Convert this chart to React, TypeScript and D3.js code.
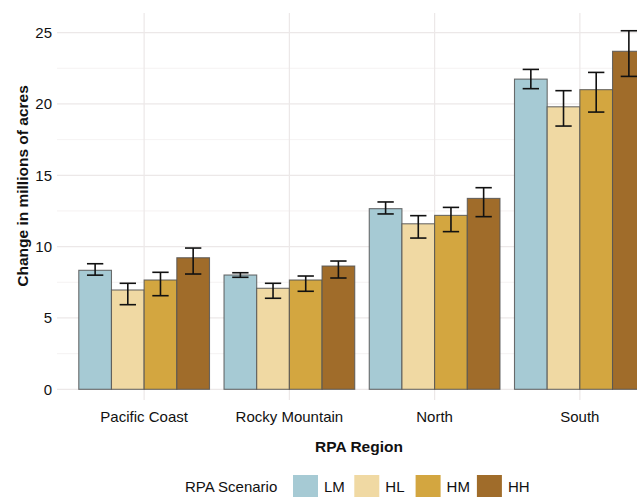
import React from "react";
import * as d3 from "d3";

const categories = ["Pacific Coast", "Rocky Mountain", "North", "South"];
const series = ["LM", "HL", "HM", "HH"];
const colors = ["#a6cad4", "#f0d9a3", "#d3a640", "#a06c2a"];
const values = [
  [8.34, 6.96, 7.66, 9.22],
  [8.01, 7.08, 7.66, 8.64],
  [12.66, 11.6, 12.19, 13.38],
  [21.74, 19.8, 21.0, 23.69],
];
const lows = [
  [8.0, 5.93, 6.56, 8.08],
  [7.85, 6.38, 6.87, 7.8],
  [12.29, 10.6, 11.05, 12.1],
  [21.07, 18.45, 19.43, 21.93],
];
const highs = [
  [8.8, 7.43, 8.2, 9.9],
  [8.17, 7.43, 7.94, 8.99],
  [13.13, 12.17, 12.75, 14.13],
  [22.42, 20.93, 22.21, 25.13],
];
const yTicks = [0, 5, 10, 15, 20, 25];
const yMinor = [2.5, 7.5, 12.5, 17.5, 22.5];

const W = 637;
const H = 497;
const panelLeft = 57;
const panelRight = 667;
const panelTop = 13;
const panelBottom = 400;
const font = "'Liberation Sans', Arial, Helvetica, sans-serif";

export default function App() {
  const x = d3.scalePoint<string>().domain(categories).range([panelLeft, panelRight]).padding(0.6);
  const step = x.step();
  const groupW = step * 0.9;
  const inner = d3.scaleBand<string>().domain(series).range([-groupW / 2, groupW / 2]);
  const bw = inner.bandwidth();
  const y = d3.scaleLinear().domain([0, 25]).range([389.3, 32.6]);

  return (
    <svg width={W} height={H} style={{ position: "absolute", left: 0, top: 0, background: "#fff" }} fontFamily={font}>
      {/* grid */}
      {yMinor.map((t) => (
        <line key={"mi" + t} x1={panelLeft} x2={W} y1={y(t)} y2={y(t)} stroke="#f3efef" strokeWidth={0.8} />
      ))}
      {yTicks.map((t) => (
        <line key={"ma" + t} x1={panelLeft} x2={W} y1={y(t)} y2={y(t)} stroke="#ece8e8" strokeWidth={1.2} />
      ))}
      {categories.map((c) => (
        <line key={"v" + c} x1={x(c)} x2={x(c)} y1={panelTop} y2={panelBottom} stroke="#ece8e8" strokeWidth={1.2} />
      ))}
      {/* bars */}
      {categories.map((c, ci) => (
        <g key={c}>
          {series.map((s, si) => {
            const bx = (x(c) as number) + (inner(s) as number);
            const top = y(values[ci][si]);
            return (
              <rect
                key={s}
                x={bx}
                y={top}
                width={bw}
                height={y(0) - top}
                fill={colors[si]}
                stroke="#555"
                strokeOpacity={0.85}
                strokeWidth={1.1}
              />
            );
          })}
          {series.map((s, si) => {
            const cx = (x(c) as number) + (inner(s) as number) + bw / 2;
            const hw = bw * 0.25;
            const yl = y(lows[ci][si]);
            const yh = y(highs[ci][si]);
            return (
              <g key={"e" + s} stroke="#111" strokeWidth={1.6}>
                <line x1={cx} x2={cx} y1={yh} y2={yl} />
                <line x1={cx - hw} x2={cx + hw} y1={yh} y2={yh} />
                <line x1={cx - hw} x2={cx + hw} y1={yl} y2={yl} />
              </g>
            );
          })}
        </g>
      ))}
      {/* y tick labels */}
      {yTicks.map((t) => (
        <text key={"yt" + t} x={52} y={y(t)} dy="0.36em" textAnchor="end" fontSize={15} fill="#111">
          {t}
        </text>
      ))}
      {/* x tick labels */}
      {categories.map((c) => (
        <text key={"xt" + c} x={x(c)} y={417} dy="0.36em" textAnchor="middle" fontSize={15} fill="#111">
          {c}
        </text>
      ))}
      <text x={359} y={446} dy="0.36em" textAnchor="middle" fontSize={15.5} fontWeight="bold" fill="#111">
        RPA Region
      </text>
      <text
        transform={`translate(22,186) rotate(-90)`}
        dy="0.36em"
        textAnchor="middle"
        fontSize={15.5}
        fontWeight="bold"
        fill="#111"
      >
        Change in millions of acres
      </text>
      {/* legend */}
      <text x={185} y={487} dy="0.36em" fontSize={15} fill="#111">
        RPA Scenario
      </text>
      {series.map((s, i) => {
        const lx = 293 + i * 61.3;
        return (
          <g key={"lg" + s}>
            <rect x={lx} y={475} width={25} height={24} fill={colors[i]} />
            <text x={lx + 31} y={487} dy="0.36em" fontSize={15} fill="#111">
              {s}
            </text>
          </g>
        );
      })}
    </svg>
  );
}
